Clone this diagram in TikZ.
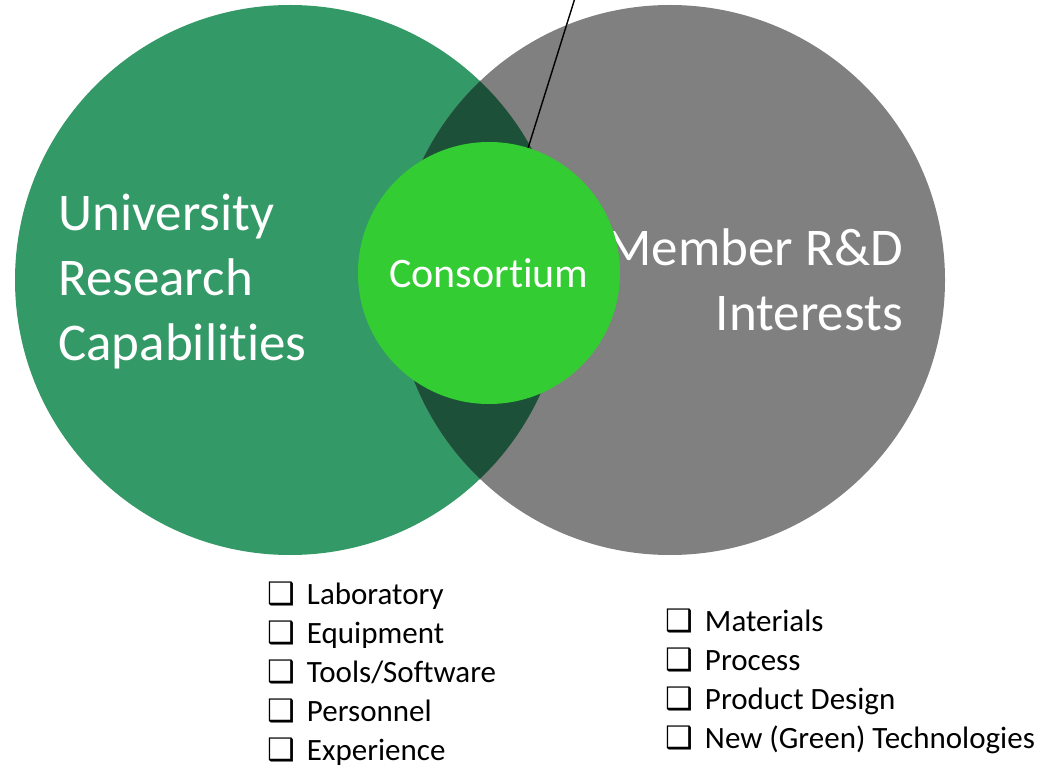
\documentclass[tikz,border=0pt]{standalone}
\usepackage{fontspec}
\setmainfont{Carlito}[RawFeature=-liga]
\newfontfamily\dejavu{DejaVu Sans}
\definecolor{unigreen}{RGB}{51,153,102}
\definecolor{membergray}{RGB}{128,128,128}
\definecolor{overlapdark}{RGB}{29,80,56}
\definecolor{consgreen}{RGB}{51,204,51}
\newcommand{\cbx}{{\dejavu\bfseries\char"2751}\hspace{12pt}}
\tikzset{
  bigcircle/.style={circle, minimum size=550pt, inner sep=0pt, draw=none},
  bigtext/.style={text=white, font=\fontsize{53}{65}\selectfont, inner sep=0pt},
  listtext/.style={text=black, font=\fontsize{31}{39}\selectfont, align=left, inner sep=0pt, anchor=west},
}
\begin{document}
\begin{tikzpicture}[x=1pt,y=1pt]
\useasboundingbox[fill=white] (0,0) rectangle (1044,-767);
% big circles
\node[bigcircle, fill=unigreen] (uni) at (290,-280) {};
\node[bigcircle, fill=membergray] (mem) at (670,-280) {};
\begin{scope}
  \clip (290,-280) circle (275);
  \fill[overlapdark] (670,-280) circle (275);
\end{scope}
% circle texts
\node[bigtext, align=left, anchor=west] (unitext) at (58,-282) {University\\Research\\Capabilities};
\node[bigtext, align=right, anchor=east] (memtext) at (903,-280) {Member R\&D\\Interests};
% consortium
\node[circle, fill=consgreen, minimum size=262pt, inner sep=0pt] (cons) at (489,-273) {};
\node[text=white, font=\fontsize{42}{48}\selectfont, inner sep=0pt] (constext) at (489,-273) {Consortium};
% pointer line
\coordinate (ptr) at (575,2);
\draw[black, line width=1.4pt] (ptr) -- (cons);
% lists
\node[listtext] (unilist) at (267,-674) {\cbx Laboratory\\\cbx Equipment\\\cbx Tools/Software\\\cbx Personnel\\\cbx Experience};
\node[listtext] (memlist) at (665,-681) {\cbx Materials\\\cbx Process\\\cbx Product Design\\\cbx New (Green) Technologies};
\end{tikzpicture}
\end{document}
